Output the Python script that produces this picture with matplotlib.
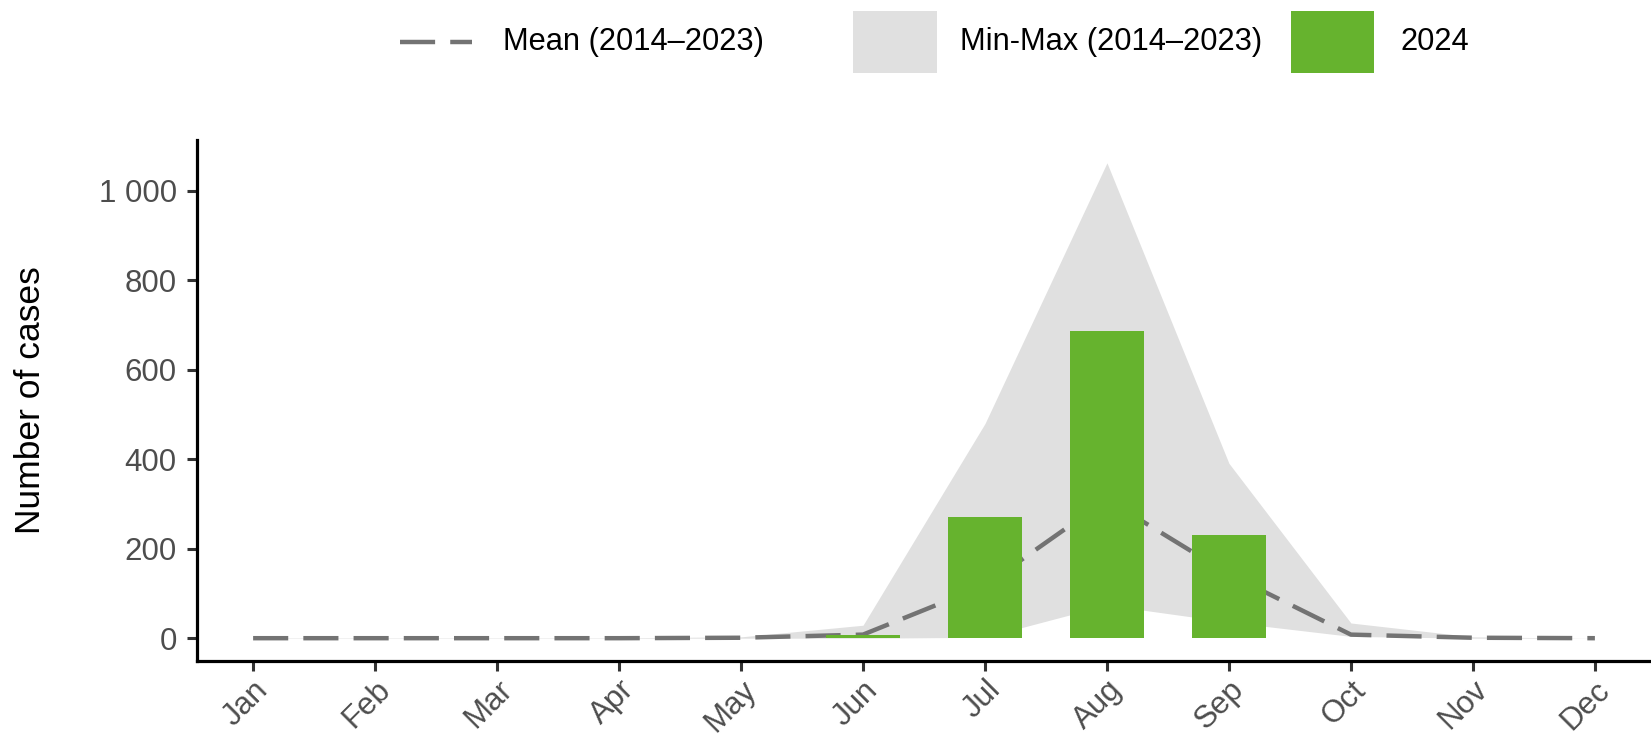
import numpy as np
import matplotlib.pyplot as plt
from matplotlib.patches import Rectangle
from matplotlib.lines import Line2D
from matplotlib.ticker import FuncFormatter, FixedLocator
import matplotlib.transforms as mtransforms

plt.rcParams["font.family"] = ["Liberation Sans", "DejaVu Sans"]

# monthly counts
months = ["Jan", "Feb", "Mar", "Apr", "May", "Jun",
          "Jul", "Aug", "Sep", "Oct", "Nov", "Dec"]
mean_2014_2023 = [0, 0, 0, 0, 1, 8, 118, 310, 143, 8, 1, 0]
min_2014_2023 = [0, 0, 0, 0, 0, 0, 2, 74, 36, 4, 0, 0]
max_2014_2023 = [1, 1, 1, 1, 3, 29, 480, 1063, 391, 34, 3, 0]
cases_2024 = [0, 0, 1, 0, 0, 7, 271, 688, 230, 0, 0, 0]
y_ticks = [0, 200, 400, 600, 800, 1000]

GREEN = "#66B32E"
BAND = "#E0E0E0"
MEAN_COL = "#737373"
TICK_COL = "#4D4D4D"

W, H = 1651, 735
fig = plt.figure(figsize=(W / 100, H / 100), dpi=100)

# panel placed in pixel terms
left, right, top, bottom = 197, 1651, 140, 661
ax = fig.add_axes([left / W, (H - bottom) / H, (right - left) / W, (bottom - top) / H])

x = np.arange(1, len(months) + 1)
dash = (0, (7.9, 3.4))

ax.fill_between(x, min_2014_2023, max_2014_2023, color=BAND, lw=0, zorder=1)
ax.plot(x, mean_2014_2023, color=MEAN_COL, lw=3.2, linestyle=dash, zorder=2)
ax.bar(x, cases_2024, width=0.6, color=GREEN, zorder=3)

ax.set_xlim(0.54, 12.46)
ax.set_ylim(-51, 1114)

ax.yaxis.set_major_locator(FixedLocator(y_ticks))
ax.yaxis.set_major_formatter(FuncFormatter(lambda v, p: f"{int(v):,}".replace(",", " ")))
ax.set_xticks(x)
ax.set_xticklabels(months, rotation=45, ha="right", va="top", rotation_mode="anchor")

# nudge the rotated month labels a bit to the right
offset = mtransforms.ScaledTranslation(18 / 100, 0, fig.dpi_scale_trans)
for lab in ax.get_xticklabels():
    lab.set_transform(lab.get_transform() + offset)

for side in ["top", "right"]:
    ax.spines[side].set_visible(False)
for side in ["left", "bottom"]:
    ax.spines[side].set_linewidth(2.3)
    ax.spines[side].set_color("black")

ax.tick_params(axis="both", length=7.5, width=2.2, color="#333333",
               labelcolor=TICK_COL, labelsize=22.5)
ax.tick_params(axis="y", pad=7)
ax.tick_params(axis="x", pad=2.5)

ax.set_ylabel("Number of cases", fontsize=25.5, color="black")
ax.yaxis.set_label_coords(-150 / (right - left), 0.5)


# legend row at the top, built by hand
def fx(px):
    return px / W


def fy(py):
    return (H - py) / H


ly = 42
legend_fs = 22.2
fig.add_artist(Line2D([fx(400), fx(472)], [fy(ly), fy(ly)], color=MEAN_COL,
                      lw=3.2, linestyle=dash, transform=fig.transFigure))
fig.text(fx(503), fy(ly), "Mean (2014\u20132023)", fontsize=legend_fs,
         va="center", ha="left")
fig.add_artist(Rectangle((fx(853), fy(73)), fx(937) - fx(853), fy(11) - fy(73),
                         color=BAND, lw=0, transform=fig.transFigure))
fig.text(fx(960), fy(ly), "Min-Max (2014\u20132023)", fontsize=legend_fs,
         va="center", ha="left")
fig.add_artist(Rectangle((fx(1291), fy(73)), fx(1374) - fx(1291), fy(11) - fy(73),
                         color=GREEN, lw=0, transform=fig.transFigure))
fig.text(fx(1400), fy(ly), "2024", fontsize=legend_fs, va="center", ha="left")

fig.savefig("out.png", dpi=100)
